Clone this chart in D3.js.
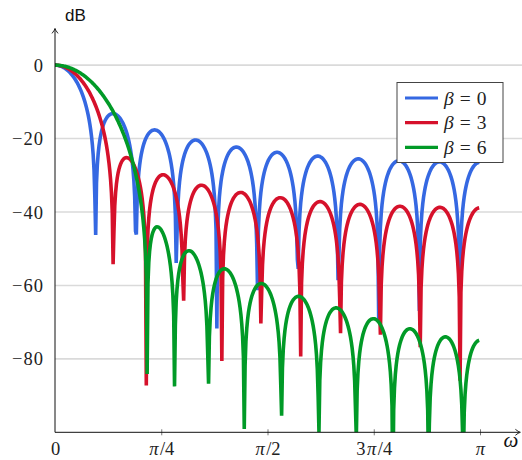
<!DOCTYPE html>
<html>
<head>
<meta charset="utf-8">
<script src="https://cdn.jsdelivr.net/npm/d3@7"></script>
<style>
  html, body { margin: 0; padding: 0; background: #fff; }
  svg { display: block; }
</style>
</head>
<body>
<svg id="chart" width="522" height="460"></svg>
<script>
// Kaiser window magnitude responses, length-21 window, three shape parameters
const windowLength = 21;
const betas = [0, 3, 6];
const seriesNames = ["0", "3", "6"];
const freqPoints = 512;             // response sampled at k·π/512, k = 0..511
const yTickValues = [0, -20, -40, -60, -80];
const xTickValues = [0, Math.PI / 4, Math.PI / 2, 3 * Math.PI / 4, Math.PI];
const xTickLabels = [["0"], ["π", "/4"], ["π", "/2"], ["3", "π", "/4"], ["π"]];

const colors = ["#3568e2", "#d6112b", "#019a27"];
const serifStack = "\"Liberation Serif\", \"Times New Roman\", Tinos, serif";

// modified Bessel function of the first kind, order 0
function besselI0(x) {
  let sum = 1, term = 1;
  for (let k = 1; k < 60; k++) {
    term *= (x / (2 * k)) * (x / (2 * k));
    sum += term;
    if (term < 1e-16 * sum) break;
  }
  return sum;
}

function kaiserWindow(N, beta) {
  const w = [];
  for (let n = 0; n < N; n++) {
    const r = 2 * n / (N - 1) - 1;
    w.push(besselI0(beta * Math.sqrt(Math.max(0, 1 - r * r))) / besselI0(beta));
  }
  return w;
}

function responseDb(w, omega) {
  let re = 0, im = 0, dc = 0;
  for (let n = 0; n < w.length; n++) {
    re += w[n] * Math.cos(omega * n);
    im -= w[n] * Math.sin(omega * n);
    dc += w[n];
  }
  const mag = Math.sqrt(re * re + im * im) / dc;
  return 20 * Math.log10(Math.max(mag, 1e-15));
}

const omegas = d3.range(freqPoints).map(k => k * Math.PI / freqPoints);
const series = betas.map((beta, i) => {
  const w = kaiserWindow(windowLength, beta);
  return { name: seriesNames[i], color: colors[i],
           values: omegas.map(om => ({ x: om, y: responseDb(w, om) })) };
});

const svg = d3.select("#chart");
const xMax = 3.44;
const x = d3.scaleLinear().domain([0, xMax]).range([55, 55 + 425 * xMax / Math.PI]);
const y = d3.scaleLinear().domain([-100, 10]).range([432.3, 28.4]);

// grid
svg.append("g")
  .selectAll("line")
  .data(yTickValues)
  .join("line")
  .attr("x1", x(0)).attr("x2", 522)
  .attr("y1", d => y(d)).attr("y2", d => y(d))
  .attr("stroke", "#dadada").attr("stroke-width", 1.6);

// curves clipped to the plot area
svg.append("clipPath").attr("id", "plotClip")
  .append("rect")
  .attr("x", x(0)).attr("y", y(10))
  .attr("width", 522 - x(0)).attr("height", y(-100) - y(10));

const line = d3.line().x(d => x(d.x)).y(d => y(d.y));
svg.append("g").attr("clip-path", "url(#plotClip)")
  .selectAll("path")
  .data(series)
  .join("path")
  .attr("d", d => line(d.values))
  .attr("fill", "none")
  .attr("stroke", d => d.color)
  .attr("stroke-width", 3.6);

// x axis
const xAxis = d3.axisBottom(x).tickValues(xTickValues).tickSize(0).tickFormat(() => "");
const gx = svg.append("g").attr("transform", `translate(0,${y(-100)})`).call(xAxis)
  .attr("font-family", serifStack);
gx.select(".domain").remove();
gx.selectAll(".tick").filter((d, i) => i > 0).append("line")
  .attr("y1", -3).attr("y2", 3).attr("stroke", "#555").attr("stroke-width", 0.8);
gx.selectAll(".tick text").remove();
gx.selectAll(".tick").append("text")
  .attr("y", 22.5)
  .attr("text-anchor", "middle")
  .attr("fill", "#222")
  .style("font-family", serifStack)
  .style("font-size", "18.5px")
  .each(function (d, i) {
    const t = d3.select(this);
    xTickLabels[i].forEach((part, j) => {
      t.append("tspan").text(part)
        .attr("dx", j > 0 ? 1.5 : 0)
        .style("font-style", part === "π" ? "italic" : "normal");
    });
  });

// y axis
const yAxis = d3.axisLeft(y).tickValues(yTickValues).tickSize(0)
  .tickFormat(d => d < 0 ? "\u2212" + Math.abs(d) : String(d));
const gy = svg.append("g").attr("transform", `translate(${x(0)},0)`).call(yAxis)
  .attr("font-family", serifStack);
gy.select(".domain").remove();
gy.selectAll(".tick text")
  .attr("x", -11)
  .attr("dy", "0.33em")
  .attr("fill", "#222")
  .style("font-size", "18.5px")
  .style("letter-spacing", "1px")
  .style("font-family", serifStack);

// axis lines with arrow tips
const axisColor = "#111";
svg.append("line").attr("x1", x(0)).attr("x2", x(xMax) - 1)
  .attr("y1", y(-100)).attr("y2", y(-100))
  .attr("stroke", axisColor).attr("stroke-width", 1);
svg.append("line").attr("x1", x(0)).attr("x2", x(0))
  .attr("y1", y(-100)).attr("y2", y(10) + 1)
  .attr("stroke", axisColor).attr("stroke-width", 1);
svg.append("path")
  .attr("d", `M${x(xMax) - 5},${y(-100) - 3} Q${x(xMax) - 2},${y(-100) - 0.5} ${x(xMax)},${y(-100)} Q${x(xMax) - 2},${y(-100) + 0.5} ${x(xMax) - 5},${y(-100) + 3}`)
  .attr("fill", "none").attr("stroke", axisColor).attr("stroke-width", 0.9);
svg.append("path")
  .attr("d", `M${x(0) - 3},${y(10) + 5} Q${x(0) - 0.5},${y(10) + 2} ${x(0)},${y(10)} Q${x(0) + 0.5},${y(10) + 2} ${x(0) + 3},${y(10) + 5}`)
  .attr("fill", "none").attr("stroke", axisColor).attr("stroke-width", 0.9);

// axis titles
svg.append("text").attr("x", 65).attr("y", 20.5)
  .style("font-family", "\"Liberation Sans\", Arial, sans-serif")
  .style("font-size", "17px").attr("fill", "#111").text("dB");
svg.append("text").attr("x", 511).attr("y", 447)
  .attr("text-anchor", "middle")
  .style("font-family", serifStack)
  .style("font-size", "21px").style("font-style", "italic").attr("fill", "#111").text("ω");

// legend
const legend = svg.append("g").attr("transform", "translate(397,82.5)");
legend.append("rect").attr("width", 106).attr("height", 80)
  .attr("fill", "#fff").attr("stroke", "#444").attr("stroke-width", 1);
const entries = legend.selectAll("g.entry").data(series).join("g")
  .attr("class", "entry")
  .attr("transform", (d, i) => `translate(0,${15.5 + i * 24.7})`);
entries.append("line").attr("x1", 8).attr("x2", 41)
  .attr("stroke", d => d.color).attr("stroke-width", 3.2);
const lt = entries.append("text")
  .attr("x", 47).attr("y", 6.5)
  .style("font-family", serifStack)
  .style("font-size", "19.5px").attr("fill", "#222");
lt.append("tspan").style("font-style", "italic").text("β");
lt.append("tspan").attr("dx", 6).text("=");
lt.append("tspan").attr("dx", 6).text(d => d.name);
</script>
</body>
</html>
